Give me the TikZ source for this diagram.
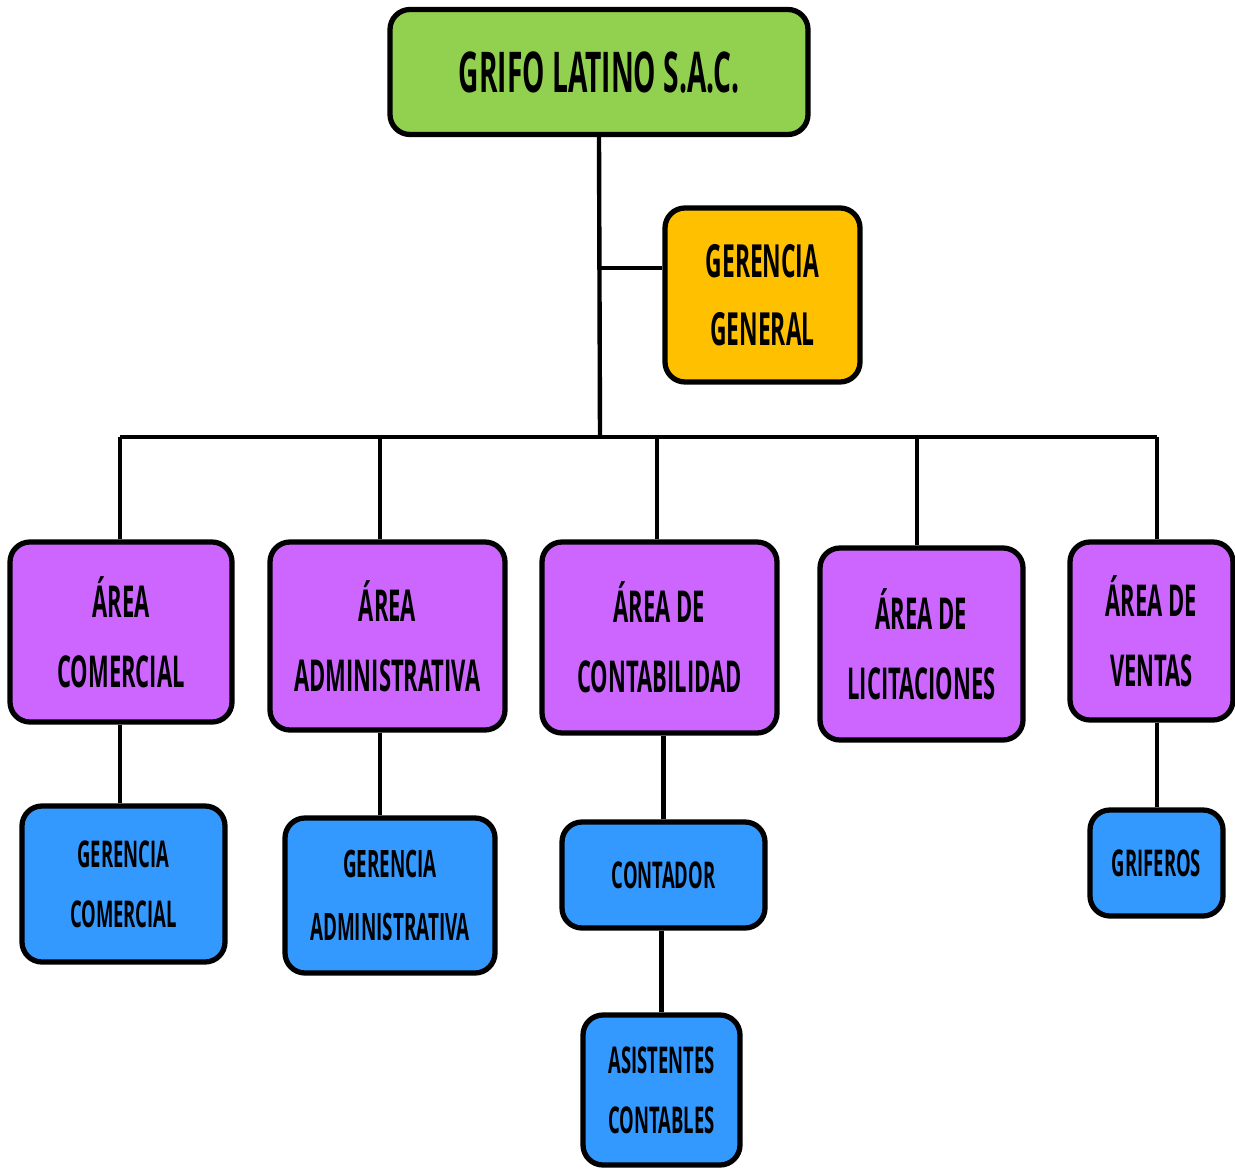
\documentclass[tikz,border=0pt]{standalone}
\usepackage{fontspec}
\setmainfont{Open Sans}[FakeStretch=0.5,BoldFont={* Bold}]
\usepackage{tikz}
\definecolor{verdeg}{HTML}{92D050}
\definecolor{naranjag}{HTML}{FFC000}
\definecolor{moradoa}{HTML}{CC66FF}
\definecolor{azulp}{HTML}{3399FF}
\tikzset{
  caja/.style={draw=black,line width=3pt,rounded corners=0.4cm,align=center,
    inner sep=0pt,font=\bfseries},
  tam/.style 2 args={minimum width=#1*0.02cm,minimum height=#2*0.02cm},
  area/.style={caja,fill=moradoa,font=\bfseries\fontsize{25}{40}\selectfont},
  puesto/.style={caja,fill=azulp,font=\bfseries\fontsize{21}{34}\selectfont},
  linea/.style={line width=2.5pt}
}

\begin{document}
\begin{tikzpicture}[x=0.02cm,y=-0.02cm]
  \useasboundingbox (0,0) rectangle (1235,1169);
  % cabecera
  \node[caja,fill=verdeg,tam={418}{125},font=\bfseries\fontsize{32}{36}\selectfont] (grifo) at (599,72) {GRIFO LATINO S.A.C.};
  \node[caja,fill=naranjag,tam={195}{174},font=\bfseries\fontsize{26}{39}\selectfont] (gg) at (762.5,295) {GERENCIA\\GENERAL};
  % areas
  \node[area,tam={222}{180}] (acom) at (121,632) {ÁREA\\COMERCIAL};
  \node[area,tam={235}{188}] (aadm) at (387.5,636) {ÁREA\\ADMINISTRATIVA};
  \node[area,tam={235}{191}] (acont) at (659.5,637.5) {ÁREA DE\\CONTABILIDAD};
  \node[area,tam={203}{192}] (alic) at (921.5,644) {ÁREA DE\\LICITACIONES};
  \node[area,tam={163}{178}] (avent) at (1151.5,631) {ÁREA DE\\VENTAS};
  % puestos
  \node[puesto,tam={203}{156}] (gcom) at (123.5,884) {GERENCIA\\COMERCIAL};
  \node[puesto,tam={210}{155},font=\bfseries\fontsize{21.5}{36}\selectfont] (gadm) at (390,895.5) {GERENCIA\\ADMINISTRATIVA};
  \node[puesto,tam={203}{106}] (conta) at (663.5,875) {CONTADOR};
  \node[puesto,tam={157}{150}] (asist) at (661.5,1090) {ASISTENTES\\CONTABLES};
  \node[puesto,tam={133}{106}] (grif) at (1156.5,863) {GRIFEROS};

  % conectores
  \coordinate (rama) at (600,268);
  \coordinate (bus) at (600,437);
  \coordinate (busi) at (120,437);
  \coordinate (busd) at (1157,437);
  \coordinate (b2) at (380,437);
  \coordinate (b3) at (657,437);
  \coordinate (b4) at (917,437);
  \draw[linea] (grifo.south) -- (bus);
  \draw[linea] (rama) -- (gg.west |- rama);
  \draw[linea] (busi) -- (busd);
  \draw[linea] (busi) -- (busi |- acom.north);
  \draw[linea] (b2) -- (b2 |- aadm.north);
  \draw[linea] (b3) -- (b3 |- acont.north);
  \draw[linea] (b4) -- (b4 |- alic.north);
  \draw[linea] (busd) -- (busd |- avent.north);
  \draw[linea] (acom.south -| busi) -- (busi |- gcom.north);
  \draw[linea] (aadm.south -| b2) -- (b2 |- gadm.north);
  \draw[linea] (acont.south -| conta.north) -- (conta.north);
  \draw[linea] (conta.south -| asist.north) -- (asist.north);
  \draw[linea] (avent.south -| busd) -- (busd |- grif.north);
\end{tikzpicture}
\end{document}
